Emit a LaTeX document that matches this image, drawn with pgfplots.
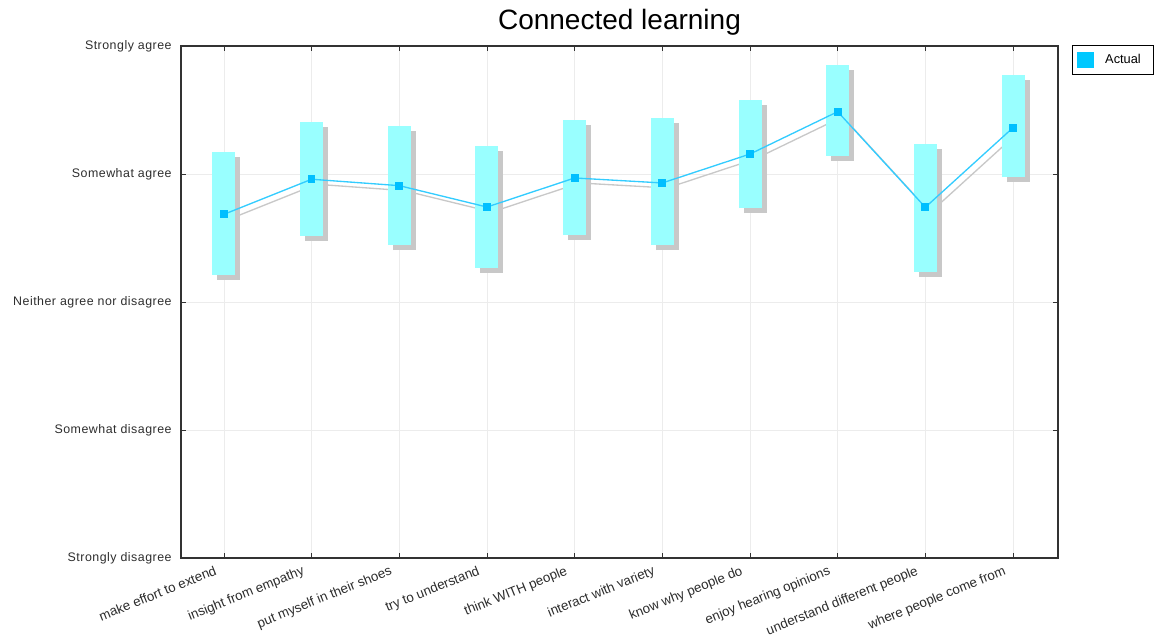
\documentclass[border=0pt]{standalone}
\usepackage{pgfplots}
\pgfplotsset{compat=1.18}
\usepackage{pgfplotstable}
\usepackage{fontspec}
\setmainfont{Liberation Sans}
\definecolor{boxcyan}{RGB}{153,255,255}
\definecolor{shadowgray}{RGB}{200,200,200}
\definecolor{linecyan}{RGB}{51,204,255}
\definecolor{markcyan}{RGB}{0,191,255}
\definecolor{legcyan}{RGB}{0,200,255}
\definecolor{gridgray}{RGB}{236,236,236}
\definecolor{axisgray}{RGB}{50,50,50}
\definecolor{textgray}{RGB}{45,45,45}

\pgfplotstableread{
x mean lo hi
0 3.685 3.211 4.174
1 3.959 3.516 4.406
2 3.909 3.445 4.375
3 3.742 3.266 4.219
4 3.969 3.523 4.422
5 3.930 3.445 4.438
6 4.156 3.734 4.578
7 4.487 4.143 4.852
8 3.740 3.236 4.234
9 4.362 3.974 4.773
}\data

\begin{document}
\begin{tikzpicture}
\useasboundingbox (-135.75pt,-61.5pt) rectangle (731.25pt,418.5pt);
\begin{axis}[
  scale only axis,
  width=657.75pt, height=384pt,
  xmin=-0.49, xmax=9.513, ymin=1, ymax=5,
  xtick={0,...,9},
  xticklabels={make effort to extend, insight from empathy, put myself in their shoes, try to understand, think WITH people, interact with variety, know why people do, enjoy hearing opinions, understand different people, where people come from},
  ytick={1,...,5},
  yticklabels={Strongly disagree, Somewhat disagree, Neither agree nor disagree, Somewhat agree, Strongly agree},
  grid=major,
  major grid style={draw=gridgray, line width=0.6pt},
  axis line style={draw=axisgray, line width=0.8pt},
  tick style={draw=axisgray, line width=0.6pt},
  major tick length=3.5pt,
  tick label style={font=\fontsize{9.3}{11}\selectfont, text=textgray},
  y tick label style={font=\addfontfeatures{LetterSpace=4}\fontsize{9.3}{11}\selectfont, xshift=-3.5pt},
  x tick label style={rotate=22, anchor=north east, inner sep=2pt, xshift=-7pt, yshift=0pt,
    font=\fontsize{10}{11}\selectfont},
  title={Connected learning},
  title style={font=\fontsize{21}{25}\selectfont, at={(0.5,1)}, anchor=base, yshift=6.5pt},
  legend style={at={(1.016,1.002)}, anchor=north west, draw=black, line width=0.8pt,
    font=\fontsize{9.6}{11}\selectfont, inner xsep=3.5pt, inner ysep=1.5pt,
    nodes={inner xsep=6pt, inner ysep=5pt}},
  legend cell align=left,
]
% box shadows
\addplot[draw=none, mark=none, forget plot, xshift=3.75pt, yshift=-3.75pt,
  error bars/.cd, y dir=plus, y explicit, error mark=none,
  error bar style={draw=shadowgray, line width=17.25pt}]
  table[x=x, y=lo, y error expr=\thisrow{hi}-\thisrow{lo}] {\data};
% shadow line
\addplot[draw=shadowgray, line width=1pt, mark=none, forget plot, xshift=3.75pt, yshift=-3.75pt]
  table[x=x, y=mean] {\data};
% boxes
\addplot[draw=none, mark=none, forget plot,
  error bars/.cd, y dir=plus, y explicit, error mark=none,
  error bar style={draw=boxcyan, line width=17.25pt}]
  table[x=x, y=lo, y error expr=\thisrow{hi}-\thisrow{lo}] {\data};
% line
\addplot[draw=linecyan, line width=1pt, mark=square*, mark size=2.4pt,
  mark options={fill=markcyan, draw=markcyan},
  legend image code/.code={\fill[legcyan] (0pt,-5.6pt) rectangle (11.25pt,5.6pt); \path[draw=none,fill=none] (14.5pt,0pt) circle (0pt);}]
  table[x=x, y=mean] {\data};
\addlegendentry{Actual}
\end{axis}
\end{tikzpicture}
\end{document}
